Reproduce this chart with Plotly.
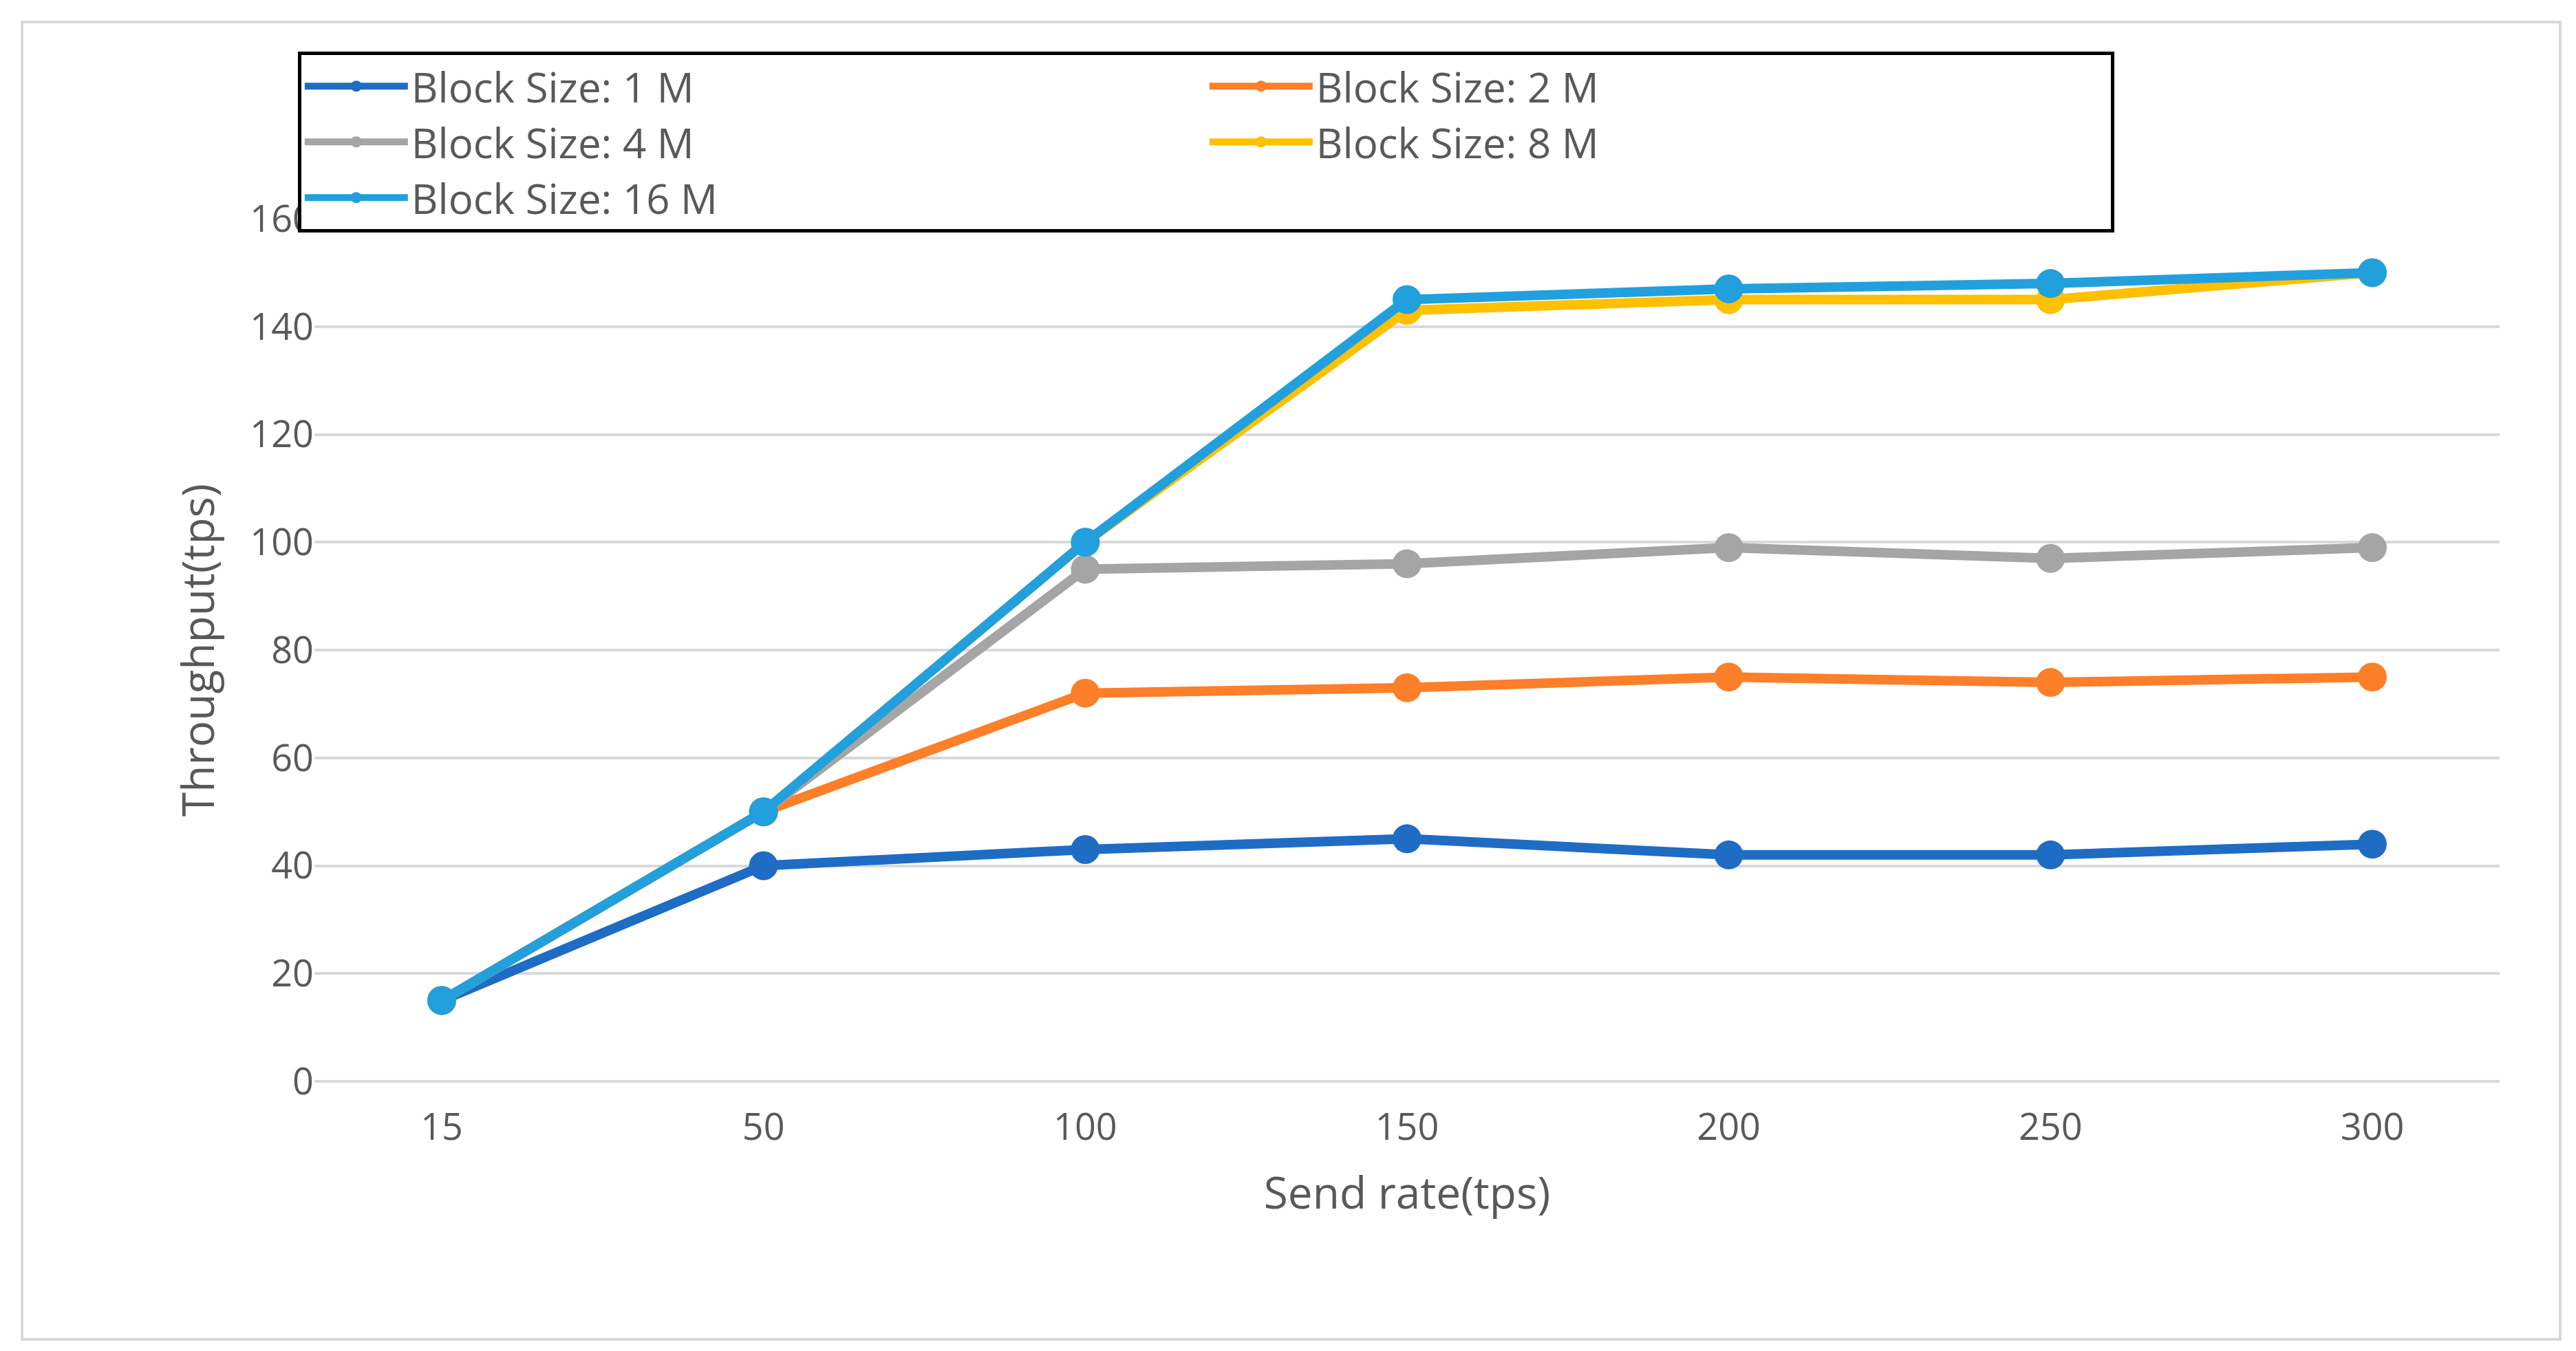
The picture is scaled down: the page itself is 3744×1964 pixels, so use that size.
import plotly.graph_objects as go

send_rate = ["15", "50", "100", "150", "200", "250", "300"]
bs_1m = [15, 40, 43, 45, 42, 42, 44]
bs_2m = [15, 50, 72, 73, 75, 74, 75]
bs_4m = [15, 50, 95, 96, 99, 97, 99]
bs_8m = [15, 50, 100, 143, 145, 145, 150]
bs_16m = [15, 50, 100, 145, 147, 148, 150]

series = [
    ("Block Size: 1 M", bs_1m, "#1f6cc4"),
    ("Block Size: 2 M", bs_2m, "#fd7f2a"),
    ("Block Size: 4 M", bs_4m, "#a5a5a5"),
    ("Block Size: 8 M", bs_8m, "#ffc000"),
    ("Block Size: 16 M", bs_16m, "#22a0dd"),
]

fig = go.Figure()
for name, vals, col in series:
    fig.add_trace(go.Scatter(x=send_rate, y=vals, name=name, mode="lines+markers",
                             line=dict(color=col, width=14),
                             marker=dict(color=col, size=42)))

gray = "#595959"
fig.update_layout(
    width=3744, height=1964,
    margin=dict(l=449, r=119, t=310, b=400, autoexpand=False),
    plot_bgcolor="white", paper_bgcolor="white",
    font=dict(family="Open Sans", color=gray, size=54),
    legend=dict(orientation="h", x=-0.0076, y=1.194, xanchor="left", yanchor="top",
                entrywidth=1150, entrywidthmode="pixels",
                bordercolor="black", borderwidth=5, bgcolor="white",
                font=dict(size=60, color=gray), itemwidth=150, tracegroupgap=0),
    xaxis=dict(title=dict(text="Send rate(tps)", font=dict(size=64), standoff=40),
               showgrid=False, showline=False, ticks="", ticklabelstandoff=30,
               automargin=False),
    yaxis=dict(title=dict(text="Throughput(tps)", font=dict(size=64), standoff=30),
               range=[0, 160], dtick=20, showgrid=True, gridcolor="#d9d9d9", gridwidth=4,
               zeroline=True, zerolinecolor="#d9d9d9", zerolinewidth=4, ticks="",
               automargin=False),
    shapes=[dict(type="rect", xref="paper", yref="paper", x0=-0.1338, x1=1.0277,
                 y0=-0.299, y1=1.228, line=dict(color="#d9d9d9", width=4))],
)
fig.write_html("out.html")
